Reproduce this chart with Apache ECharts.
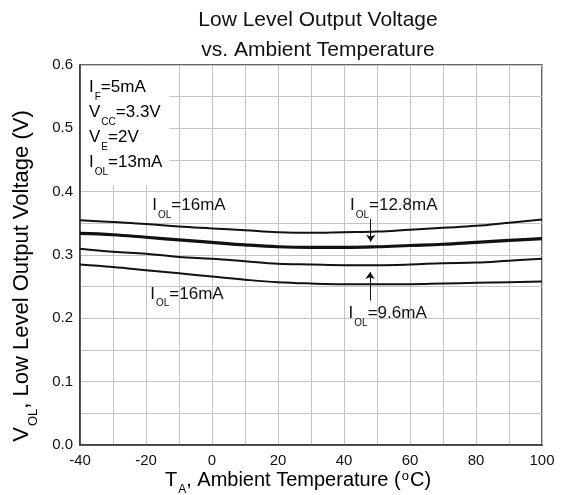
<!DOCTYPE html>
<head>
<meta charset="utf-8">
<title>ECharts</title>
</head>
<body style="margin:0">
<div id="main" style="width: 563px; height: 495px"></div>
<script src="https://cdn.jsdelivr.net/npm/echarts@6/dist/echarts.min.js"></script>
<script>
// temperature points (deg C) and V_OL
var temps = [-40, -30, -20, -10, 0, 10, 20, 30, 40, 50, 60, 70, 80, 90, 100];
var vol16Top = [0.355, 0.352, 0.349, 0.345, 0.342, 0.339, 0.336, 0.335, 0.336, 0.337, 0.340, 0.343, 0.346, 0.351, 0.356];
var vol128 = [0.334, 0.332, 0.328, 0.324, 0.320, 0.316, 0.313, 0.312, 0.312, 0.313, 0.315, 0.317, 0.320, 0.323, 0.326];
var vol96 = [0.310, 0.305, 0.302, 0.297, 0.294, 0.290, 0.286, 0.285, 0.284, 0.284, 0.285, 0.287, 0.288, 0.291, 0.294];
var vol16Bot = [0.285, 0.281, 0.276, 0.271, 0.266, 0.261, 0.257, 0.255, 0.254, 0.254, 0.254, 0.255, 0.256, 0.257, 0.258];
var xTicks = [-40, -20, 0, 20, 40, 60, 80, 100];
var yTicks = [0.0, 0.1, 0.2, 0.3, 0.4, 0.5, 0.6];

var font = 'Liberation Sans';
var rich = {
    n: {fontFamily: font, fontSize: 17, lineHeight: 25, verticalAlign: 'top', color: '#111'},
    s: {fontFamily: font, fontSize: 10, lineHeight: 10, verticalAlign: 'top', padding: [13, 0, 0, 1], color: '#111'}
};
var richBig = {
    n: {fontFamily: font, fontSize: 20, lineHeight: 26, verticalAlign: 'top', color: '#111'},
    s: {fontFamily: font, fontSize: 12, lineHeight: 12, verticalAlign: 'top', padding: [14, 0, 0, 1], color: '#111'},
    p: {fontFamily: font, fontSize: 13, lineHeight: 13, verticalAlign: 'top', padding: [0, 1, 0, 1], color: '#111'}
};
var richY = {
    n: {fontFamily: font, fontSize: 22, lineHeight: 28, verticalAlign: 'top', color: '#111'},
    s: {fontFamily: font, fontSize: 13, lineHeight: 13, verticalAlign: 'top', padding: [16, 0, 0, 1], color: '#111'}
};

function pairs(ys) {
    return temps.map(function (t, i) { return [t, ys[i]]; });
}

function label(coord, txt) {
    return {
        coord: coord,
        label: {show: true, position: 'right', distance: 0, formatter: txt, rich: rich}
    };
}

function arrow(x, y0, y1) {
    return [{coord: [x, y0]}, {coord: [x, y1]}];
}

var lineBase = {
    type: 'line',
    smooth: 0.4,
    showSymbol: false,
    silent: true
};

var myChart = echarts.init(document.getElementById('main'));
myChart.setOption({
    animation: false,
    grid: {left: 80, right: 21, top: 65, bottom: 50, show: true, borderColor: '#333', borderWidth: 1.5},
    xAxis: {
        type: 'value', min: -40, max: 100, interval: 20,
        axisLine: {show: true, onZero: false, lineStyle: {color: '#333', width: 1.5}},
        axisTick: {show: false},
        axisLabel: {
            fontFamily: font, fontSize: 15, color: '#111', margin: 8,
            formatter: function (v) { return xTicks.indexOf(v) >= 0 ? String(v) : ''; }
        },
        splitLine: {show: true, lineStyle: {color: '#c4c4c4', width: 1}},
        minorTick: {show: false, splitNumber: 2},
        minorSplitLine: {show: true, lineStyle: {color: '#c4c4c4', width: 1}}
    },
    yAxis: {
        type: 'value', min: 0, max: 0.6, interval: 0.1,
        axisLine: {show: true, onZero: false, lineStyle: {color: '#333', width: 1.5}},
        axisTick: {show: false},
        axisLabel: {
            fontFamily: font, fontSize: 15, color: '#111', margin: 7,
            formatter: function (v) { return yTicks[Math.round(v * 10)].toFixed(1); }
        },
        splitLine: {show: true, lineStyle: {color: '#c4c4c4', width: 1}},
        minorTick: {show: false, splitNumber: 2},
        minorSplitLine: {show: true, lineStyle: {color: '#c4c4c4', width: 1}}
    },
    graphic: [
        {
            type: 'text', x: 318, y: 35, silent: true,
            style: {
                text: 'Low Level Output Voltage\nvs. Ambient Temperature',
                font: '21px "Liberation Sans"', lineHeight: 30,
                fill: '#111', align: 'center', verticalAlign: 'middle'
            }
        },
        {
            type: 'text', x: 298, y: 483, silent: true,
            style: {
                text: '{n|T}{s|A}{n|, Ambient Temperature (}{p|o}{n|C)}',
                rich: richBig, align: 'center', verticalAlign: 'middle'
            }
        },
        {
            type: 'text', x: 25, y: 276, rotation: Math.PI / 2, silent: true,
            style: {
                text: '{n|V}{s|OL}{n|, Low Level Output Voltage (V)}',
                rich: richY, align: 'center', verticalAlign: 'middle'
            }
        },
        {
            type: 'text', x: 89, y: 79, silent: true, z: 10,
            style: {
                text: '{n|I}{s|F}{n|=5mA}\n{n|V}{s|CC}{n|=3.3V}\n{n|V}{s|E}{n|=2V}\n{n|I}{s|OL}{n|=13mA}',
                rich: rich, align: 'left', verticalAlign: 'top'
            }
        }
    ],
    series: [
        Object.assign({}, lineBase, {
            data: pairs(vol16Top),
            lineStyle: {color: '#111', width: 2},
            markArea: {
                silent: true,
                itemStyle: {color: '#fff'},
                data: [[{coord: [-39.7, 0.598]}, {coord: [-13, 0.41]}]]
            },
            markPoint: {
                symbol: 'circle', symbolSize: 0, silent: true,
                data: [label([-18.1, 0.372], '{n|I}{s|OL}{n|=16mA}')]
            }
        }),
        Object.assign({}, lineBase, {
            data: pairs(vol128),
            lineStyle: {color: '#111', width: 3.2},
            markPoint: {
                symbol: 'circle', symbolSize: 0, silent: true,
                data: [label([41.8, 0.372], '{n|I}{s|OL}{n|=12.8mA}')]
            },
            markLine: {
                silent: true, symbol: ['none', 'arrow'], symbolSize: 7,
                lineStyle: {color: '#111', width: 1, type: 'solid'},
                label: {show: false},
                data: [arrow(48.1, 0.357, 0.321)]
            }
        }),
        Object.assign({}, lineBase, {
            data: pairs(vol96),
            lineStyle: {color: '#111', width: 2},
            markPoint: {
                symbol: 'circle', symbolSize: 0, silent: true,
                data: [label([41.4, 0.201], '{n|I}{s|OL}{n|=9.6mA}')]
            },
            markLine: {
                silent: true, symbol: ['none', 'arrow'], symbolSize: 7,
                lineStyle: {color: '#111', width: 1, type: 'solid'},
                label: {show: false},
                data: [arrow(47.9, 0.228, 0.273)]
            }
        }),
        Object.assign({}, lineBase, {
            data: pairs(vol16Bot),
            lineStyle: {color: '#111', width: 2},
            markPoint: {
                symbol: 'circle', symbolSize: 0, silent: true,
                data: [label([-18.7, 0.232], '{n|I}{s|OL}{n|=16mA}')]
            }
        })
    ]
});
</script>
</body>
</html>
